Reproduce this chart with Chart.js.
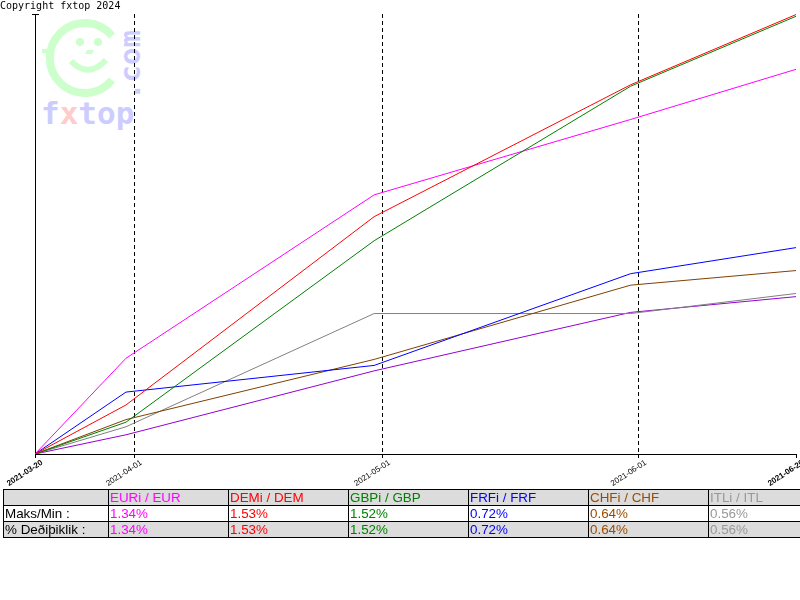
<!DOCTYPE html>
<html>
<head>
<meta charset="utf-8">
<script src="https://cdn.jsdelivr.net/npm/chart.js@4.4.0/dist/chart.umd.min.js"></script>
<style>
  body { margin: 0; width: 800px; height: 600px; overflow: hidden; background: #fff; position: relative; }
  #logo { position: absolute; left: 0; top: 0; }
  #wrap { position: absolute; left: 0; top: 0; width: 800px; height: 600px; }
  #copy { position: absolute; left: 0; top: 0; font: 10px "DejaVu Sans Mono", monospace; line-height: 12px; color: #000; }
  table { position: absolute; left: 3px; top: 489px; width: 825px; border-collapse: collapse; table-layout: fixed;
          font: 13.4px "Liberation Sans", Arial, sans-serif; }
  td { border: 1px solid #000; height: 15px; line-height: 15px; padding: 0 1px; white-space: nowrap; overflow: hidden; }
  tr.g td { background: #dcdcdc; }
</style>
</head>
<body>
<svg id="logo" width="150" height="140">
  <path d="M112 36 A35 35 0 1 0 112 80" fill="none" stroke="#ccffcc" stroke-width="8"/>
  <rect x="42" y="49" width="12" height="4" fill="#ccffcc"/>
  <circle cx="80" cy="42" r="4" fill="#ccffcc"/>
  <circle cx="98" cy="42" r="4" fill="#ccffcc"/>
  <path d="M87 50 L94 50 L92 54 L85 54 Z" fill="#ccffcc"/>
  <path d="M71 61 Q88 79 106 60" fill="none" stroke="#ccffcc" stroke-width="6"/>
  <text x="41" y="124" font-family="DejaVu Sans Mono" font-weight="bold" font-size="31" fill="#ccccff">f<tspan fill="#ffcccc">x</tspan>top</text>
  <text transform="translate(140,100) rotate(-90)" font-family="DejaVu Sans Mono" font-weight="bold" font-size="29" fill="#ccccff">.com</text>
</svg>
<div id="wrap"><canvas id="chart"></canvas></div>
<div id="copy">Copyright fxtop 2024</div>
<table id="tbl"></table>
<script>
const pointDates = ['2021-03-20', '2021-03-31', '2021-04-30', '2021-05-31', '2021-06-20'];
const tickDates = ['2021-03-20', '2021-04-01', '2021-05-01', '2021-06-01', '2021-06-20'];

const eurValues = [0, 0.334, 0.904, 1.167, 1.342];
const demValues = [0, 0.171, 0.828, 1.288, 1.533];
const gbpValues = [0, 0.111, 0.744, 1.283, 1.527];
const frfValues = [0, 0.216, 0.309, 0.629, 0.720];
const chfValues = [0, 0.120, 0.330, 0.589, 0.640];
const itlValues = [0, 0.095, 0.490, 0.490, 0.560];
const otherValues = [0, 0.067, 0.290, 0.494, 0.549];

const tableNames = ['EURi / EUR', 'DEMi / DEM', 'GBPi / GBP', 'FRFi / FRF', 'CHFi / CHF', 'ITLi / ITL'];
const tableColors = ['#ff00ff', '#ff0000', '#008000', '#0000ff', '#994c00', '#999999'];
const maxMin = ['1.34%', '1.53%', '1.52%', '0.72%', '0.64%', '0.56%'];
const change = ['1.34%', '1.53%', '1.52%', '0.72%', '0.64%', '0.56%'];

function dayOf(s) {
  return (Date.parse(s + 'T00:00:00Z') - Date.parse(pointDates[0] + 'T00:00:00Z')) / 86400000;
}
const pointDays = pointDates.map(dayOf);
const tickDays = tickDates.map(dayOf);

function series(values, color) {
  return {
    data: values.map((v, i) => ({ x: pointDays[i], y: v })),
    borderColor: color,
    borderWidth: 1,
    pointRadius: 0,
    tension: 0,
    fill: false
  };
}

// small bar at the top of the y axis
const topBar = {
  id: 'topBar',
  afterDraw(chart) {
    const { ctx, chartArea } = chart;
    ctx.save();
    ctx.strokeStyle = '#000';
    ctx.lineWidth = 1;
    ctx.beginPath();
    ctx.moveTo(chartArea.left - 3, Math.round(chartArea.top) + 0.5);
    ctx.lineTo(chartArea.left + 4, Math.round(chartArea.top) + 0.5);
    ctx.stroke();
    ctx.restore();
  }
};

const last = tickDays.length - 1;

new Chart(document.getElementById('chart'), {
  type: 'line',
  data: {
    datasets: [
      series(demValues, '#ff0000'),
      series(gbpValues, '#008000'),
      series(eurValues, '#ff00ff'),
      series(frfValues, '#0000ff'),
      series(chfValues, '#804000'),
      series(itlValues, '#808080'),
      series(otherValues, '#9400d3')
    ]
  },
  options: {
    responsive: true,
    maintainAspectRatio: false,
    animation: false,
    layout: { padding: { left: 35, top: 14, right: 4, bottom: 106 } },
    plugins: { legend: { display: false }, tooltip: { enabled: false } },
    scales: {
      x: {
        type: 'linear',
        min: tickDays[0],
        max: tickDays[last],
        afterBuildTicks(scale) {
          scale.ticks = tickDays.map(v => ({ value: v }));
        },
        afterFit(scale) {
          scale.paddingLeft = 0;
          scale.paddingRight = 0;
          scale.height = 40;
        },
        ticks: {
          autoSkip: false,
          minRotation: 33,
          maxRotation: 33,
          padding: 0,
          labelOffset: 7,
          color: '#000',
          callback: (v, i) => tickDates[i],
          font: ctx => ({
            family: 'Liberation Sans',
            size: 8,
            weight: (ctx.index === 0 || ctx.index === last) ? 'bold' : 'normal'
          })
        },
        grid: {
          color: ctx => (ctx.index === 0 || ctx.index === last) ? 'rgba(0,0,0,0)' : '#000',
          lineWidth: 1,
          tickLength: 4,
          tickColor: '#000'
        },
        border: { color: '#000', width: 1, dash: [4, 3] }
      },
      y: {
        min: 0,
        max: 1.535,
        ticks: { display: false },
        grid: { display: false, drawTicks: false },
        border: { color: '#000', width: 1 },
        afterFit(scale) {
          scale.paddingTop = 0;
          scale.paddingBottom = 0;
        }
      }
    }
  },
  plugins: [topBar]
});

const tbl = document.getElementById('tbl');
let html = '<colgroup><col style="width:105px">' + tableNames.map(() => '<col style="width:120px">').join('') + '</colgroup>';
html += '<tr class="g"><td></td>' + tableNames.map((n, i) => `<td style="color:${tableColors[i]}">${n}</td>`).join('') + '</tr>';
html += '<tr><td>Maks/Min :</td>' + maxMin.map((n, i) => `<td style="color:${tableColors[i]}">${n}</td>`).join('') + '</tr>';
html += '<tr class="g"><td>% Deðiþiklik :</td>' + change.map((n, i) => `<td style="color:${tableColors[i]}">${n}</td>`).join('') + '</tr>';
tbl.innerHTML = html;
</script>
</body>
</html>
